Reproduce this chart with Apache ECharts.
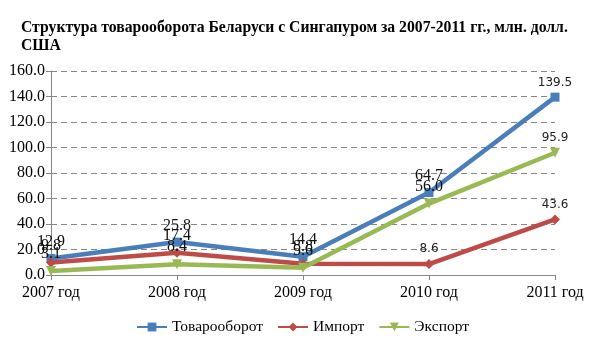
<!DOCTYPE html>
<html>
<head>
<meta charset="utf-8">
<script src="https://cdn.jsdelivr.net/npm/echarts@6/dist/echarts.min.js"></script>
<style>
  html, body { margin: 0; padding: 0; background: #fff; }
  #chart { width: 605px; height: 340px; }
</style>
</head>
<body>
<div id="chart"></div>
<script>
// Товарооборот Беларуси с Сингапуром, млн. долл. США
const years = ['2007 год', '2008 год', '2009 год', '2010 год', '2011 год'];
const turnover = [12.9, 25.8, 14.4, 64.7, 139.5];
const imports = [9.8, 17.4, 8.8, 8.6, 43.6];
const exports = [3.1, 8.4, 5.6, 56.0, 95.9];
const yTicks = [0, 20, 40, 60, 80, 100, 120, 140, 160];

const SERIF = '"Liberation Serif", "DejaVu Serif", serif';
const SANS = '"DejaVu Sans", "Liberation Sans", sans-serif';

// The last point's label (and one middle label) use a smaller sans face
function withLabels(values, smallIdx) {
  return values.map((v, i) => {
    if (smallIdx.indexOf(i) >= 0) {
      return { value: v, label: { fontFamily: SANS, fontSize: 12, color: '#222' } };
    }
    return v;
  });
}

function makeSeries(name, values, color, symbol, smallIdx) {
  return {
    name: name,
    type: 'line',
    data: withLabels(values, smallIdx),
    symbol: symbol,
    symbolSize: symbol === 'rect' ? 9 : 10,
    symbolRotate: symbol === 'triangle' ? 180 : 0,
    showAllSymbol: true,
    lineStyle: { color: color, width: 4.5 },
    itemStyle: { color: color },
    label: {
      show: true,
      position: 'top',
      distance: 4,
      fontFamily: SERIF,
      fontSize: 16,
      color: '#111',
      formatter: p => Number(p.value).toFixed(1)
    },
    emphasis: { disabled: true },
    animation: false,
    z: 3
  };
}

const chart = echarts.init(document.getElementById('chart'), null, { renderer: 'canvas' });
chart.setOption({
  backgroundColor: '#fff',
  title: {
    text: 'Структура товарооборота Беларуси с Сингапуром за 2007-2011 гг., млн. долл.\nСША',
    left: 16,
    top: 14,
    textStyle: {
      fontFamily: SERIF,
      fontWeight: 'bold',
      fontSize: 15.7,
      lineHeight: 18,
      color: '#000'
    }
  },
  grid: { left: 51, right: 50, top: 71, bottom: 65, containLabel: false },
  legend: {
    bottom: 0,
    left: 'center',
    itemWidth: 30,
    itemHeight: 11,
    itemGap: 14,
    textStyle: { fontFamily: SERIF, fontSize: 15.5, color: '#000' },
    data: ['Товарооборот', 'Импорт', 'Экспорт']
  },
  xAxis: {
    type: 'category',
    data: years,
    boundaryGap: false,
    axisLine: { lineStyle: { color: '#868686', width: 1 } },
    axisTick: { show: true, length: 5, lineStyle: { color: '#868686' }, alignWithLabel: true },
    axisLabel: { fontFamily: SERIF, fontSize: 16, color: '#000', margin: 10 },
    splitLine: { show: false }
  },
  yAxis: {
    type: 'value',
    min: yTicks[0],
    max: yTicks[yTicks.length - 1],
    interval: yTicks[1] - yTicks[0],
    axisLine: { show: true, lineStyle: { color: '#868686', width: 1 } },
    axisTick: { show: true, length: 5, lineStyle: { color: '#868686' } },
    axisLabel: {
      fontFamily: SERIF, fontSize: 16, color: '#000', margin: 6,
      formatter: v => v.toFixed(1)
    },
    splitLine: { show: true, lineStyle: { color: '#868686', type: [6, 4], width: 1 } }
  },
  series: [
    makeSeries('Товарооборот', turnover, '#4A7EBB', 'rect', [4]),
    makeSeries('Импорт', imports, '#BE4B48', 'diamond', [3, 4]),
    makeSeries('Экспорт', exports, '#98B954', 'triangle', [4])
  ]
});
</script>
</body>
</html>
